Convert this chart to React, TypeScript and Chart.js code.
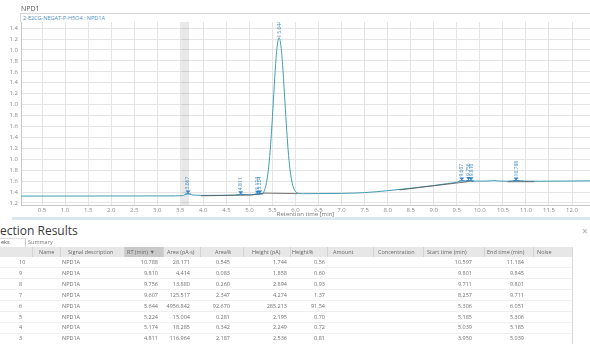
import React, { useEffect, useRef } from "react";
import { Chart, registerables } from "chart.js";
Chart.register(...registerables);

// ---- chromatogram signal (retention time in min, signal) ----
const retentionTime = [0.04, 0.5, 1.0, 1.5, 2.0, 2.5, 3.0, 3.4, 3.55, 3.6, 3.64, 3.667, 3.7, 3.75, 3.85, 4.0, 4.3, 4.6, 4.75, 4.811, 4.87, 5.0, 5.1, 5.174, 5.2, 5.224, 5.26, 5.3, 5.32, 5.36, 5.40, 5.44, 5.48, 5.52, 5.56, 5.60, 5.644, 5.68, 5.72, 5.76, 5.80, 5.84, 5.88, 5.92, 5.96, 6.0, 6.05, 6.15, 6.5, 7.0, 7.5, 8.0, 8.5, 9.0, 9.3, 9.5, 9.607, 9.68, 9.72, 9.756, 9.78, 9.81, 9.85, 10.0, 10.2, 10.3, 10.4, 10.6, 10.788, 11.0, 11.3, 11.6, 12.0, 12.39];
const signalValues = [12.6, 12.6, 12.7, 12.7, 12.8, 12.8, 12.9, 13.0, 13.4, 15.0, 16.8, 17.4, 16.6, 15.0, 14.2, 14.0, 14.0, 14.3, 15.2, 16.2, 15.6, 15.2, 15.6, 17.0, 17.2, 17.3, 17.0, 17.6, 22, 33, 53, 85, 131, 187, 243, 285, 302.5, 290, 253, 200, 145, 97, 62, 40, 27, 21, 18, 17, 17.2, 17.5, 19.0, 22.5, 27.0, 32.0, 35.5, 38.0, 41.0, 40.0, 39.5, 42.0, 41.0, 41.5, 40.0, 40.0, 40.3, 41.0, 40.2, 39.8, 41.3, 40.0, 39.8, 40.0, 40.2, 40.5];

const xTickValues = [0.5, 1.0, 1.5, 2.0, 2.5, 3.0, 3.5, 4.0, 4.5, 5.0, 5.5, 6.0, 6.5, 7.0, 7.5, 8.0, 8.5, 9.0, 9.5, 10.0, 10.5, 11.0, 11.5, 12.0];
const yTickValues = [0, 20, 40, 60, 80, 100, 120, 140, 160, 180, 200, 220, 240, 260, 280, 300, 320];
const yTickLabels = ["1.2", "1.4", "1.6", "1.8", "1.0", "1.2", "1.4", "1.6", "1.8", "1.0", "1.2", "1.4", "1.6", "1.8", "1.0", "1.2", "1.4"];
const shadedRange = [3.52, 3.69];
const extraPeakLabels = [3.667];

// ---- peak table ----
const tableHeaders = ["", "Name", "Signal description", "RT (min) ▼", "Area (pA·s)", "Area%", "Height (pA)", "Height%", "Amount", "Concentration", "Start time (min)", "End time (min)", "Noise"];
const peakNumbers = [10, 9, 8, 7, 6, 5, 4, 3];
const signalDescriptions = ["NPD1A", "NPD1A", "NPD1A", "NPD1A", "NPD1A", "NPD1A", "NPD1A", "NPD1A"];
const rtValues = ["10.788", "9.810", "9.756", "9.607", "5.644", "5.224", "5.174", "4.811"];
const areaValues = ["28.171", "4.414", "13.880", "125.517", "4956.842", "15.004", "18.285", "116.964"];
const areaPercent = ["0.545", "0.083", "0.260", "2.347", "92.670", "0.281", "0.342", "2.187"];
const heightValues = ["1.744", "1.858", "2.894", "4.274", "285.213", "2.195", "2.249", "2.536"];
const heightPercent = ["0.56", "0.60", "0.93", "1.37", "91.54", "0.70", "0.72", "0.81"];
const startTimes = ["10.597", "9.801", "9.711", "8.257", "5.306", "5.185", "5.039", "3.950"];
const endTimes = ["11.184", "9.845", "9.801", "9.711", "6.051", "5.306", "5.185", "5.039"];

const FONT = "'Open Sans', 'Noto Sans', sans-serif";

function signalAt(t: number) {
  for (let i = 0; i < retentionTime.length - 1; i++) {
    const a = retentionTime[i], b = retentionTime[i + 1];
    if (t >= a && t <= b) {
      const f = (t - a) / (b - a);
      return signalValues[i] + f * (signalValues[i + 1] - signalValues[i]);
    }
  }
  return signalValues[signalValues.length - 1];
}
function apexAt(t: number) {
  let v = signalAt(t);
  retentionTime.forEach((rt, i) => {
    if (Math.abs(rt - t) < 0.02) v = Math.max(v, signalValues[i]);
  });
  return v;
}

const annotPlugin = {
  id: "annot",
  beforeDatasetsDraw(chart: any) {
    const { ctx, chartArea, scales } = chart;
    const x = scales.x;
    ctx.save();
    ctx.fillStyle = "rgba(0,0,0,0.09)";
    const x1 = x.getPixelForValue(shadedRange[0]);
    const x2 = x.getPixelForValue(shadedRange[1]);
    ctx.fillRect(x1, chartArea.top, x2 - x1, chartArea.bottom - chartArea.top);
    ctx.restore();
  },
  afterDatasetsDraw(chart: any) {
    const { ctx, scales } = chart;
    const x = scales.x, y = scales.y;
    ctx.save();
    // integration baselines
    ctx.strokeStyle = "#555";
    ctx.lineWidth = 0.8;
    startTimes.forEach((s, i) => {
      const st = parseFloat(s), en = parseFloat(endTimes[i]);
      ctx.beginPath();
      ctx.moveTo(x.getPixelForValue(st), y.getPixelForValue(signalAt(st)) + 0.5);
      ctx.lineTo(x.getPixelForValue(en), y.getPixelForValue(signalAt(en)) + 0.5);
      ctx.stroke();
    });
    const labels = [...extraPeakLabels.map((v) => v.toFixed(3)), ...rtValues];
    labels.forEach((lab) => {
      const t = parseFloat(lab);
      const px = x.getPixelForValue(t);
      const top = y.getPixelForValue(apexAt(t));
      const small = apexAt(t) < 100;
      if (small) {
        const base = y.getPixelForValue(signalAt(t));
        ctx.fillStyle = "#2f80c8";
        ctx.beginPath();
        ctx.moveTo(px - 2.5, base - 3);
        ctx.lineTo(px + 2.5, base - 3);
        ctx.lineTo(px, base);
        ctx.closePath();
        ctx.fill();
        ctx.strokeStyle = "#2f80c8";
        ctx.lineWidth = 0.8;
        ctx.beginPath();
        ctx.moveTo(px - 3, base + 0.5);
        ctx.lineTo(px + 3, base + 0.5);
        ctx.stroke();
      } else {
        ctx.strokeStyle = "#6a8fa8";
        ctx.lineWidth = 0.7;
        ctx.beginPath();
        ctx.moveTo(px - 2, top - 1.5);
        ctx.lineTo(px + 2, top - 1.5);
        ctx.stroke();
      }
      // vertical label
      ctx.save();
      ctx.translate(px, top - 4);
      ctx.rotate(-Math.PI / 2);
      ctx.font = `5px ${FONT}`;
      ctx.fillStyle = "#3d8cc0";
      ctx.textAlign = "left";
      ctx.textBaseline = "middle";
      ctx.fillText(lab, 0, 0);
      ctx.restore();
    });
    ctx.restore();
  },
};

function ChromChart() {
  const ref = useRef<HTMLCanvasElement>(null);
  useEffect(() => {
    if (!ref.current) return;
    const chart = new Chart(ref.current, {
      type: "line",
      data: {
        datasets: [
          {
            data: retentionTime.map((t, i) => ({ x: t, y: signalValues[i] })),
            borderColor: "#3f9db2",
            borderWidth: 1,
            pointRadius: 0,
            cubicInterpolationMode: "monotone",
            fill: false,
          },
        ],
      },
      options: {
        animation: false,
        responsive: false,
        devicePixelRatio: 1,
        layout: { padding: { top: 22, left: 0, right: 0, bottom: 4 } },
        plugins: { legend: { display: false }, tooltip: { enabled: false } },
        scales: {
          x: {
            type: "linear",
            min: 0.044,
            max: 12.39,
            afterBuildTicks: (s: any) => {
              s.ticks = xTickValues.map((v) => ({ value: v }));
            },
            afterFit: (s: any) => {
              s.height = 13;
            },
            grid: { color: "#e4e4e4", drawTicks: false },
            border: { color: "#c8c8c8" },
            ticks: {
              padding: 2,
              maxRotation: 0,
              autoSkip: false,
              color: "#8a8a8a",
              font: { size: 6, family: FONT },
              callback: (v: any) => Number(v).toFixed(1),
            },
            title: {
              display: true,
              text: "Retention time [min]",
              color: "#777",
              font: { size: 6, family: FONT },
              padding: { top: 0, bottom: 0 },
            },
          },
          y: {
            type: "linear",
            min: -3.7,
            max: 331.2,
            afterBuildTicks: (s: any) => {
              s.ticks = yTickValues.map((v) => ({ value: v }));
            },
            afterFit: (s: any) => {
              s.width = 21;
            },
            grid: { color: "#e4e4e4", drawTicks: false },
            border: { color: "#c8c8c8" },
            ticks: {
              padding: 3,
              autoSkip: false,
              color: "#8a8a8a",
              font: { size: 6, family: FONT },
              callback: (_v: any, i: number) => yTickLabels[i],
            },
          },
        },
      },
      plugins: [annotPlugin],
    } as any);
    return () => chart.destroy();
  }, []);
  return <canvas ref={ref} width={590} height={222} style={{ position: "absolute", left: 0, top: 0 }} />;
}

const colBounds = [32, 60, 124, 163, 200, 243, 290, 327, 373, 423, 484, 533, 572];
const headerX = [14, 39, 68, 127, 167, 215, 252, 292, 333, 378, 427, 487, 537];

export default function App() {
  const rowTop = (i: number) => 257 + i * 10.9;
  const txt = (left: number, top: number, s: string, extra: any = {}) => (
    <div style={{ position: "absolute", left, top, fontSize: 5.5, lineHeight: "10px", color: "#707070", whiteSpace: "nowrap", ...extra }}>{s}</div>
  );
  const rtxt = (right: number, top: number, s: string) => (
    <div style={{ position: "absolute", right: 590 - right, top, fontSize: 5.5, lineHeight: "10px", color: "#707070", whiteSpace: "nowrap", textAlign: "right" }}>{s}</div>
  );
  return (
    <div style={{ position: "absolute", left: 0, top: 0, width: 590, height: 344, overflow: "hidden", background: "#fff", fontFamily: FONT }}>
      <ChromChart />
      <div style={{ position: "absolute", left: 21, top: 4, fontSize: 7, color: "#555", lineHeight: "9px" }}>NPD1</div>
      <div style={{ position: "absolute", left: 20, top: 13, width: 570, height: 8, borderTop: "1px solid #d6d6d6", borderLeft: "1px solid #d6d6d6", background: "#fff" }}>
        <div style={{ position: "absolute", left: 2, top: 0, fontSize: 5.5, lineHeight: "8px", color: "#4d8ec4", whiteSpace: "nowrap" }}>2-E2CG-NEGAT-P-H5O4 : NPD1A</div>
      </div>
      <div style={{ position: "absolute", left: 12, top: 217, width: 578, height: 3, background: "#dce7ee" }} />
      <div style={{ position: "absolute", left: 0, top: 222, fontSize: 12, lineHeight: "18px", color: "#3a3a3a" }}>ection Results</div>
      <div style={{ position: "absolute", left: 582, top: 225, fontSize: 10, lineHeight: "12px", color: "#aaa" }}>×</div>
      {/* tabs */}
      <div style={{ position: "absolute", left: 0, top: 238, width: 25, height: 9, borderRight: "1px solid #ccc", borderTop: "1px solid #ddd", background: "#fff" }} />
      {txt(1, 237, "eks", { color: "#555" })}
      {txt(28, 237, "Summary", { color: "#777" })}
      {/* header */}
      <div style={{ position: "absolute", left: 0, top: 247, width: 572, height: 10, background: "#e7e7e7" }} />
      <div style={{ position: "absolute", left: 124, top: 247, width: 39, height: 10, background: "#c9c9c9" }} />
      {colBounds.map((b, i) => (
        <div key={"cb" + i} style={{ position: "absolute", left: b, top: 247, width: 1, height: 10, background: "#d2d2d2" }} />
      ))}
      <div style={{ position: "absolute", left: 572, top: 247, width: 1, height: 97, background: "#d8d8d8" }} />
      {tableHeaders.map((h, i) => (
        <React.Fragment key={"h" + i}>{txt(headerX[i], 247, h, { color: "#6a6a6a" })}</React.Fragment>
      ))}
      {peakNumbers.map((n, i) => (
        <React.Fragment key={"r" + i}>
          <div style={{ position: "absolute", left: 0, top: rowTop(i) + 10.4, width: 572, height: 1, background: "#efefef" }} />
          {txt(19, rowTop(i), String(n))}
          {txt(62, rowTop(i), signalDescriptions[i])}
          {rtxt(158, rowTop(i), rtValues[i])}
          {rtxt(190, rowTop(i), areaValues[i])}
          {rtxt(230, rowTop(i), areaPercent[i])}
          {rtxt(287, rowTop(i), heightValues[i])}
          {rtxt(325, rowTop(i), heightPercent[i])}
          {rtxt(472, rowTop(i), startTimes[i])}
          {rtxt(524, rowTop(i), endTimes[i])}
        </React.Fragment>
      ))}
    </div>
  );
}
